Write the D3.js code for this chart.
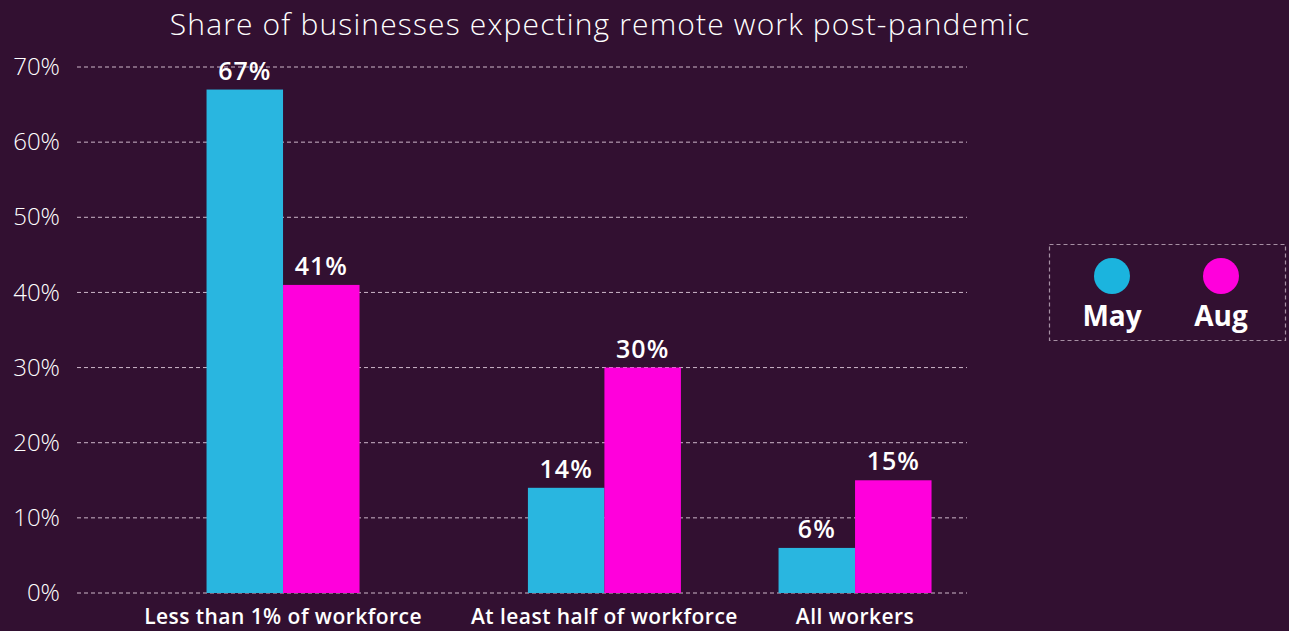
<!DOCTYPE html>
<html>
<head>
<meta charset="utf-8">
<script src="https://cdn.jsdelivr.net/npm/d3@7/dist/d3.min.js"></script>
<style>
  html, body { margin: 0; padding: 0; background: #321031; }
  svg { display: block; }
  text { font-family: "Open Sans", "Noto Sans", sans-serif; fill: #ffffff; }
</style>
</head>
<body>
<svg id="chart" width="1289" height="631"></svg>
<script>
// Chart data
const categories = ["Less than 1% of workforce", "At least half of workforce", "All workers"];
const seriesNames = ["May", "Aug"];
const mayValues = [67, 14, 6];
const augValues = [41, 30, 15];
const yTicks = [0, 10, 20, 30, 40, 50, 60, 70];
const titleText = "Share of businesses expecting remote work post-pandemic";

const colors = { May: "#29b6e0", Aug: "#ff00dc" };
const legendColors = { May: "#1bb4de", Aug: "#ff00dc" };

const W = 1289, H = 631;
const margin = { left: 77, right: 322, top: 67, bottom: 38 };
const plotW = W - margin.left - margin.right;
const plotH = H - margin.top - margin.bottom;

const svg = d3.select("#chart");
svg.append("rect").attr("width", W).attr("height", H).attr("fill", "#321031");

const g = svg.append("g").attr("transform", `translate(${margin.left},${margin.top})`);

const y = d3.scaleLinear().domain([0, 70]).range([plotH, 0]);

// Group centres along the category axis (fractions of plot width)
const groupSlots = [0.2315, 0.5926, 0.8742];
const x = d3.scaleOrdinal().domain(categories).range(groupSlots.map(f => f * plotW));
const barW = 76.5;
const xSeries = d3.scaleBand().domain(seriesNames).range([-barW, barW]).padding(0);

// Gridlines
g.append("g").selectAll("line").data(yTicks).join("line")
  .attr("x1", 0).attr("x2", plotW)
  .attr("y1", d => y(d)).attr("y2", d => y(d))
  .attr("stroke", "#cdb7c9").attr("stroke-width", 1)
  .attr("stroke-dasharray", "4,3");

// Y axis labels
const yAxis = d3.axisLeft(y).tickValues(yTicks).tickFormat(d => d + "%").tickSize(0).tickPadding(17);
const ya = g.append("g").call(yAxis);
ya.select(".domain").remove();
ya.selectAll("text")
  .attr("font-size", 24).attr("font-weight", 300)
  .attr("fill", "#ffffff").attr("font-family", "'Open Sans', sans-serif");

// Bars
const rows = categories.map((c, i) => ({ cat: c, May: mayValues[i], Aug: augValues[i] }));
const groups = g.selectAll(".grp").data(rows).join("g")
  .attr("class", "grp")
  .attr("transform", d => `translate(${x(d.cat)},0)`);

groups.selectAll("rect").data(d => seriesNames.map(s => ({ s, v: d[s] }))).join("rect")
  .attr("x", d => xSeries(d.s))
  .attr("width", xSeries.bandwidth())
  .attr("y", d => y(d.v))
  .attr("height", d => plotH - y(d.v))
  .attr("fill", d => colors[d.s]);

groups.selectAll(".val").data(d => seriesNames.map(s => ({ s, v: d[s] }))).join("text")
  .attr("class", "val")
  .attr("x", d => xSeries(d.s) + xSeries.bandwidth() / 2)
  .attr("y", d => y(d.v) - 10)
  .attr("text-anchor", "middle")
  .attr("font-size", 25).attr("font-weight", 600)
  .attr("letter-spacing", 1)
  .text(d => d.v + "%");

// Category labels
const xa = g.append("g").attr("transform", `translate(0,${plotH})`);
xa.selectAll("text").data(categories).join("text")
  .attr("x", d => x(d))
  .attr("y", 31)
  .attr("text-anchor", "middle")
  .attr("font-size", 21).attr("font-weight", 600)
  .attr("letter-spacing", 0.45)
  .text(d => d);

// Title
svg.append("text")
  .attr("x", 600).attr("y", 35)
  .attr("text-anchor", "middle")
  .attr("font-size", 30).attr("font-weight", 300)
  .attr("letter-spacing", 1.15)
  .text(titleText);

// Legend
const lg = svg.append("g").attr("transform", "translate(1049,244)");
lg.append("rect").attr("x", 0.5).attr("y", 0.5).attr("width", 236).attr("height", 96)
  .attr("fill", "none").attr("stroke", "#a68fa3").attr("stroke-width", 1.2)
  .attr("stroke-dasharray", "4,3");
const lx = d3.scalePoint().domain(seriesNames).range([63, 172]);
const items = lg.selectAll(".item").data(seriesNames).join("g")
  .attr("class", "item")
  .attr("transform", d => `translate(${lx(d)},0)`);
items.append("circle").attr("cy", 32).attr("r", 18).attr("fill", d => legendColors[d]);
items.append("text").attr("y", 82).attr("text-anchor", "middle")
  .attr("font-size", 28).attr("font-weight", 700).text(d => d);
</script>
</body>
</html>
